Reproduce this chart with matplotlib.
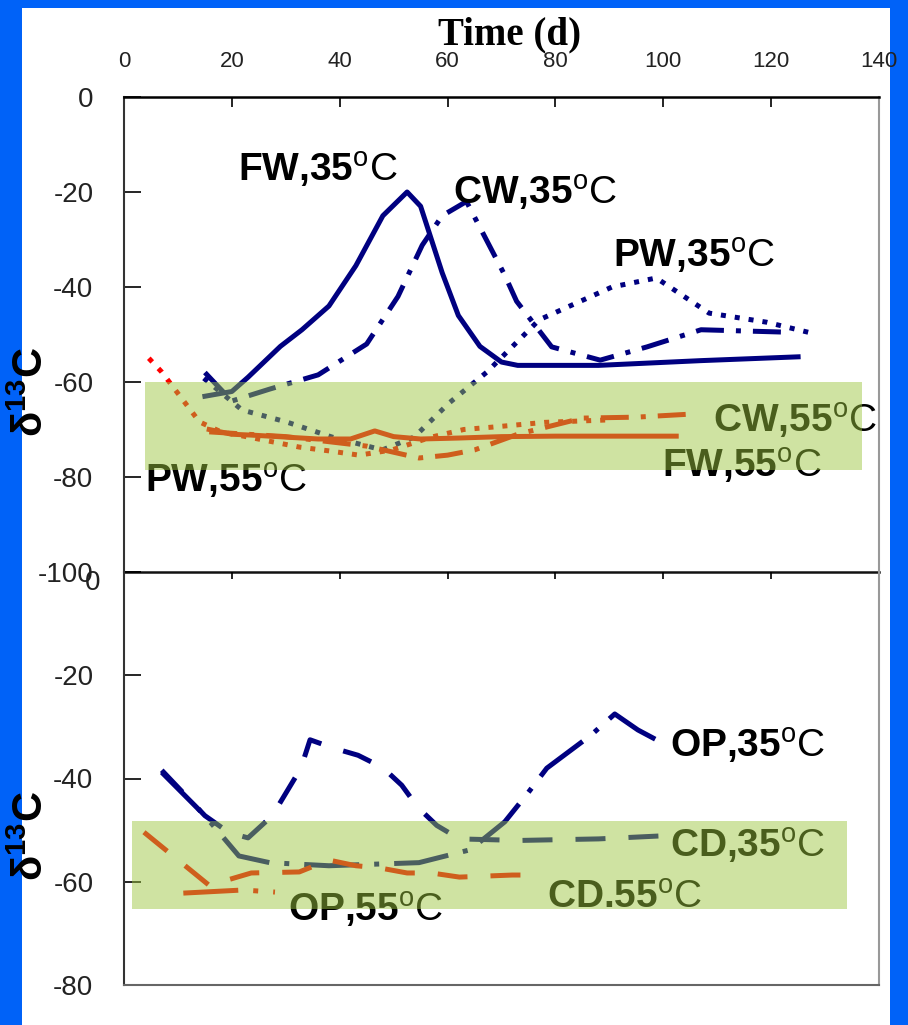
import matplotlib
matplotlib.use("Agg")
import matplotlib.pyplot as plt
import matplotlib.transforms as mtransforms
from matplotlib.patches import Rectangle

plt.rcParams['font.family'] = ['Liberation Sans', 'DejaVu Sans']
plt.rcParams['mathtext.fontset'] = 'custom'
plt.rcParams['mathtext.rm'] = 'Liberation Sans'
plt.rcParams['mathtext.bf'] = 'Liberation Sans:bold'
plt.rcParams['mathtext.it'] = 'Liberation Sans:italic'
plt.rcParams['axes.unicode_minus'] = False

# --------------------------
# Data (time in days, delta13C in permil)
# --------------------------

# top panel, 35 C
fw35_x = [15, 20, 23, 29, 33, 38, 43, 48, 52.5, 55, 59, 62, 66, 70, 73, 88, 107, 125]
fw35_y = [-63, -62, -59, -52.5, -49, -44, -35.5, -25, -20, -23, -37, -46, -52.5, -55.8, -56.5, -56.5, -55.5, -54.7]

cw35_x = [15, 20, 27, 36, 45, 50.8, 55.3, 59, 63.5, 70.6, 72.8, 79.3, 88.3, 97, 107, 122.5]
cw35_y = [-58, -64, -61.5, -58.5, -52, -42, -31.2, -25, -22, -37.5, -43, -52.6, -55.4, -52.6, -49, -49.5]

pw35_x = [14.8, 21.9, 30.1, 38.6, 47.9, 53.8, 60.3, 67.3, 77, 90.5, 98.7, 108.5, 119.1, 127.5]
pw35_y = [-59.2, -65.9, -68.4, -71.6, -74.3, -71.6, -64.4, -57.9, -46.9, -40, -38.1, -45.5, -47.4, -49.7]

# top panel, 55 C
fw55_x = [15.8, 20, 24, 30, 36, 42, 46.5, 50, 55, 62, 70, 80, 90, 102.4]
fw55_y = [-70, -71, -71.2, -71.6, -72, -72, -70.3, -71.5, -72, -71.8, -71.5, -71.4, -71.4, -71.4]

pw55_x = [4.6, 7, 14, 18, 24, 32.5, 38, 43.6, 49.7, 57, 63, 68.3, 78, 89.4]
pw55_y = [-55, -57.9, -68.4, -70.5, -71.8, -73.7, -74.5, -75.4, -74.3, -71.6, -70, -69.5, -68.5, -68]

cw55_x = [15.8, 30, 45, 54.7, 60, 65, 73, 85, 95, 106]
cw55_y = [-70.5, -71.5, -73.5, -76, -75.4, -74.3, -71, -67.6, -67.4, -66.7]

# bottom panel
op35_x = [7, 15, 21.3, 27, 38, 54.7, 64.2, 70.6, 74.9, 78.4, 86.6, 91, 95.3, 99.8]
op35_y = [-38.8, -47.2, -55, -56.3, -56.9, -56.3, -53.8, -48.4, -42.8, -38, -31.6, -27.5, -30.6, -33.1]

cd35_x = [7, 15, 19.5, 23, 27.5, 32.8, 34.5, 38.8, 43.4, 48, 51.5, 54.5, 58, 62.2, 73.3, 88, 100]
cd35_y = [-38.4, -47.2, -50.5, -51.5, -47.2, -38, -32.5, -34.1, -35.5, -37.9, -41.3, -45.6, -49.1, -51.7, -52, -51.7, -51.1]

op55_x = [11, 22, 28]
op55_y = [-62.2, -61.6, -62]

cd55_x = [3.7, 15.8, 23.6, 32.5, 38, 43, 47.3, 52.5, 57, 62.2, 72, 77]
cd55_y = [-50.4, -60.7, -58.3, -58.1, -55.8, -56.9, -57.3, -58.3, -58.3, -59.1, -58.7, -58.7]

x_ticks = [0, 20, 40, 60, 80, 100, 120, 140]
top_yticks = [0, -20, -40, -60, -80, -100]
bot_yticks = [0, -20, -40, -60, -80]

NAVY = "#000080"
RED = "#ff0000"
BAND = (156 / 255, 198 / 255, 62 / 255)

DOT = (0, (1, 1.8))
DASHDOT = (0, (5.6, 2.4, 1, 2.4))
DASH = (0, (6, 4.6))
LONGDASHDOT = (0, (11, 3, 1, 3))

# --------------------------
# Figure
# --------------------------

fig = plt.figure(figsize=(9.08, 10.25), dpi=100, facecolor="#0062f8")
fig.patches.append(Rectangle((22 / 908, 0), 868 / 908, 1 - 8 / 1025,
                             transform=fig.transFigure, facecolor="white",
                             edgecolor="none", zorder=-10))

ax1 = fig.add_axes([124 / 908, 1 - 572 / 1025, 755 / 908, 475 / 1025])
ax2 = fig.add_axes([124 / 908, 1 - 985 / 1025, 755 / 908, 413 / 1025])

for ax in (ax1, ax2):
    ax.set_facecolor("none")
    ax.set_xlim(0, 140)
    ax.xaxis.tick_top()
    ax.set_xticks(x_ticks)
    ax.tick_params(axis="y", direction="in", length=12, width=1.2,
                   pad=22, labelsize=20, labelcolor="#222222")
    ax.tick_params(axis="x", direction="in", length=7, width=1.2)
    ax.spines["left"].set_color("#333333")
    ax.spines["left"].set_linewidth(1.5)
    ax.spines["right"].set_color("#999999")
    ax.spines["right"].set_linewidth(1.5)

ax1.set_ylim(-100, 0)
ax1.set_yticks(top_yticks)
ax1.tick_params(axis="x", pad=18, labelsize=16, labelcolor="#222222")
ax1.spines["top"].set_linewidth(1.8)
ax1.spines["bottom"].set_linewidth(1.8)
ax1.spines["bottom"].set_color("#111111")

ax2.set_ylim(-80, 0)
ax2.set_yticks(bot_yticks)
ax2.tick_params(axis="x", labeltop=False, length=5)
ax2.spines["top"].set_visible(False)
ax2.spines["bottom"].set_color("#666666")
ax2.spines["bottom"].set_linewidth(1.5)

# the lower panel's "0" sits a little right of and below the "-100"
zero_lab = ax2.yaxis.get_major_ticks()[0].label1
zero_lab.set_transform(zero_lab.get_transform() +
                       mtransforms.ScaledTranslation(0.07, -0.08, fig.dpi_scale_trans))

lw = 3.6
ax1.plot(fw35_x, fw35_y, color=NAVY, lw=lw, zorder=3)
ax1.plot(cw35_x, cw35_y, color=NAVY, lw=lw, ls=DASHDOT, zorder=3)
ax1.plot(pw35_x, pw35_y, color=NAVY, lw=lw, ls=DOT, zorder=3)
ax1.plot(fw55_x, fw55_y, color=RED, lw=lw, zorder=3)
ax1.plot(pw55_x, pw55_y, color=RED, lw=lw, ls=DOT, zorder=3)
ax1.plot(cw55_x, cw55_y, color=RED, lw=lw, ls=DASHDOT, zorder=3)

ax2.plot(op35_x, op35_y, color=NAVY, lw=lw, ls=LONGDASHDOT, zorder=3)
ax2.plot(cd35_x, cd35_y, color=NAVY, lw=lw, ls=DASH, zorder=3)
ax2.plot(op55_x, op55_y, color=RED, lw=lw, ls=LONGDASHDOT, zorder=3)
ax2.plot(cd55_x, cd55_y, color=RED, lw=lw, ls=DASH, zorder=3)


def label(ax, x, y, name, clip=False):
    ax.text(x, y, name + r"$^{\rm o}\rm C$", fontsize=28, fontweight="bold",
            ha="left", va="baseline", color="black", zorder=5, clip_on=clip)


label(ax1, 21.1, -17.9, "FW,35")
label(ax1, 61.0, -22.7, "CW,35")
label(ax1, 90.7, -36.0, "PW,35")
label(ax1, 109.2, -70.7, "CW,55", clip=True)
label(ax1, 99.8, -80.2, "FW,55")
label(ax1, 3.9, -83.2, "PW,55")

label(ax2, 101.2, -36.0, "OP,35")
label(ax2, 101.2, -55.4, "CD,35")
label(ax2, 78.4, -65.1, "CD.55")
label(ax2, 30.4, -67.8, "OP,55")

# translucent green bands drawn over lines and labels
ax1.add_patch(Rectangle((3.9, -78.5), 132.9, 18.5, facecolor=BAND,
                        alpha=0.48, edgecolor="none", zorder=10))
ax2.add_patch(Rectangle((1.5, -65.3), 132.5, 17.1, facecolor=BAND,
                        alpha=0.48, edgecolor="none", zorder=10))

fig.text(510 / 908, 1 - 35 / 1025, "Time (d)", family="Liberation Serif",
         fontweight="bold", fontsize=28, ha="center", va="center")

for yc in (392, 836):
    fig.text(32 / 908, 1 - yc / 1025, r"δ$^{\mathbf{13}}$C", fontsize=30,
             fontweight="bold", rotation=90, ha="center", va="center")

fig.savefig("out.png", dpi=100, facecolor=fig.get_facecolor())
